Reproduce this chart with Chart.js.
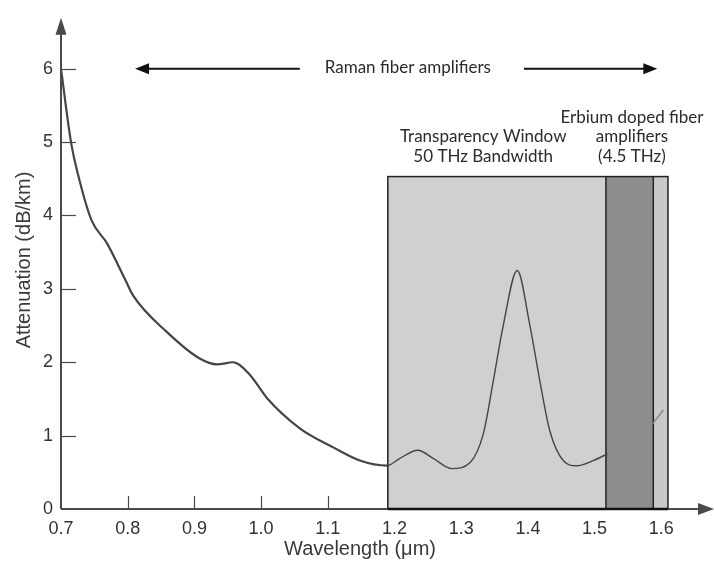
<!DOCTYPE html>
<html>
<head>
<meta charset="utf-8">
<script src="https://cdn.jsdelivr.net/npm/chart.js@4/dist/chart.umd.min.js"></script>
<style>
  html, body { margin: 0; padding: 0; background: #fff; }
  #wrap { width: 714px; height: 563px; }
</style>
</head>
<body>
<div id="wrap"><canvas id="attChart" width="714" height="563"></canvas></div>
<script>
// ---------- data ----------
const wavelength = [0.7, 0.715, 0.728, 0.746, 0.769, 0.796, 0.808, 0.859, 0.908, 0.934, 0.958, 0.983,
    1.009, 1.058, 1.108, 1.148, 1.189, 1.208, 1.235, 1.258, 1.286, 1.313, 1.333, 1.348, 1.363,
    1.384, 1.403, 1.418, 1.433, 1.453, 1.473, 1.498, 1.519];
const attenuation = [6.0, 5.0, 4.47, 3.93, 3.62, 3.13, 2.91, 2.41, 2.05, 1.97, 2.0, 1.83,
    1.51, 1.1, 0.84, 0.66, 0.59, 0.69, 0.8, 0.69, 0.55, 0.63, 1.02, 1.74, 2.5,
    3.25, 2.5, 1.74, 1.06, 0.66, 0.59, 0.66, 0.75];

// small bit of curve visible right of the erbium band
const tailWavelength = [1.587, 1.603];
const tailAttenuation = [1.16, 1.35];

const xTicks = [0.7, 0.8, 0.9, 1.0, 1.1, 1.2, 1.3, 1.4, 1.5, 1.6];
const yTicks = [0, 1, 2, 3, 4, 5, 6];

const xTitle = 'Wavelength (\u03bcm)';
const yTitle = 'Attenuation (dB/km)';

// shaded regions (wavelength ranges, attenuation top)
const windowRange = [1.19, 1.61];
const windowTop = 4.53;
const erbiumRange = [1.517, 1.588];

// Raman arrows: [from, to] wavelength at attenuation 6
const ramanLeft = [1.058, 0.811];
const ramanRight = [1.394, 1.594];
const ramanLevel = 6.0;

const labels = [
    { text: 'Raman fiber amplifiers', x: 1.22, y: 6.02 },
    { text: 'Transparency Window', x: 1.333, y: 5.08 },
    { text: '50 THz Bandwidth', x: 1.333, y: 4.8 },
    { text: 'Erbium doped fiber', x: 1.556, y: 5.34 },
    { text: 'amplifiers', x: 1.556, y: 5.07 },
    { text: '(4.5 THz)', x: 1.556, y: 4.8 }
];

const AXIS = '#4a4a4a';
const SANS = '"Liberation Sans", Arial, sans-serif';

// =============================================
// DRAWING HELPERS
// =============================================

function arrowHead(ctx, tipX, tipY, dir, len, half) {
    // dir: 'left' | 'right' | 'up'
    ctx.beginPath();
    if (dir === 'left') {
        ctx.moveTo(tipX, tipY);
        ctx.lineTo(tipX + len, tipY - half);
        ctx.lineTo(tipX + len, tipY + half);
    } else if (dir === 'right') {
        ctx.moveTo(tipX, tipY);
        ctx.lineTo(tipX - len, tipY - half);
        ctx.lineTo(tipX - len, tipY + half);
    } else {
        ctx.moveTo(tipX, tipY);
        ctx.lineTo(tipX - half, tipY + len);
        ctx.lineTo(tipX + half, tipY + len);
    }
    ctx.closePath();
    ctx.fill();
}

const backdrop = {
    id: 'backdrop',
    beforeDatasetsDraw(chart) {
        const { ctx, scales: { x, y } } = chart;
        const x0 = x.getPixelForValue(0.7);
        const yb = y.getPixelForValue(0);
        ctx.save();

        // inner tick marks
        ctx.strokeStyle = AXIS;
        ctx.lineWidth = 1.2;
        yTicks.slice(1).forEach(v => {
            const py = Math.round(y.getPixelForValue(v)) + 0.5;
            ctx.beginPath();
            ctx.moveTo(x0, py);
            ctx.lineTo(x0 + 15, py);
            ctx.stroke();
        });
        xTicks.slice(1).forEach(v => {
            const px = Math.round(x.getPixelForValue(v)) + 0.5;
            ctx.beginPath();
            ctx.moveTo(px, yb);
            ctx.lineTo(px, yb - 13);
            ctx.stroke();
        });

        // transparency window
        const wl = x.getPixelForValue(windowRange[0]);
        const wr = x.getPixelForValue(windowRange[1]);
        const wt = y.getPixelForValue(windowTop);
        ctx.fillStyle = '#d0d0d0';
        ctx.fillRect(wl, wt, wr - wl, yb - wt);

        // erbium band
        const el = x.getPixelForValue(erbiumRange[0]);
        const er = x.getPixelForValue(erbiumRange[1]);
        ctx.fillStyle = '#8d8d8d';
        ctx.fillRect(el, wt, er - el, yb - wt);
        ctx.fillStyle = '#c9c9c9';
        ctx.fillRect(er, wt, wr - er, yb - wt);

        ctx.strokeStyle = '#222';
        ctx.lineWidth = 1.5;
        ctx.strokeRect(wl, wt, wr - wl, yb - wt);
        [el, er].forEach(px => {
            ctx.beginPath();
            ctx.moveTo(px, wt);
            ctx.lineTo(px, yb);
            ctx.stroke();
        });
        ctx.restore();
    },
    afterDatasetsDraw(chart) {
        const { ctx, chartArea, scales: { x, y } } = chart;
        const x0 = x.getPixelForValue(0.7);
        const yb = y.getPixelForValue(0);
        ctx.save();

        // axes with arrows
        ctx.strokeStyle = AXIS;
        ctx.fillStyle = AXIS;
        ctx.lineWidth = 2;
        ctx.beginPath();
        ctx.moveTo(x0, yb);
        ctx.lineTo(x0, chartArea.top + 6);
        ctx.moveTo(x0, yb);
        ctx.lineTo(706, yb);
        ctx.stroke();
        arrowHead(ctx, x0, chartArea.top - 1, 'up', 17, 5.5);
        arrowHead(ctx, 714, yb, 'right', 16, 6);

        // window bottom edge along axis
        ctx.strokeStyle = '#111';
        ctx.lineWidth = 2.5;
        ctx.beginPath();
        ctx.moveTo(x.getPixelForValue(windowRange[0]), yb);
        ctx.lineTo(x.getPixelForValue(windowRange[1]), yb);
        ctx.stroke();

        // Raman arrows
        ctx.strokeStyle = '#111';
        ctx.fillStyle = '#111';
        ctx.lineWidth = 2;
        const ry = y.getPixelForValue(ramanLevel);
        [ramanLeft, ramanRight].forEach(([a, b]) => {
            const pa = x.getPixelForValue(a);
            const pb = x.getPixelForValue(b);
            const dir = pb < pa ? 'left' : 'right';
            ctx.beginPath();
            ctx.moveTo(pa, ry);
            ctx.lineTo(dir === 'left' ? pb + 10 : pb - 10, ry);
            ctx.stroke();
            arrowHead(ctx, pb, ry, dir, 14, 5.5);
        });

        // text labels
        ctx.fillStyle = '#2b2b2b';
        ctx.font = '17px Lato, "Open Sans", sans-serif';
        ctx.textAlign = 'center';
        ctx.textBaseline = 'middle';
        labels.forEach(l => {
            ctx.fillText(l.text, x.getPixelForValue(l.x), y.getPixelForValue(l.y));
        });

        // axis titles
        ctx.fillStyle = '#3a3a3a';
        ctx.font = '20px ' + SANS;
        ctx.fillText(xTitle, 360, 549);
        ctx.translate(24, 260);
        ctx.rotate(-Math.PI / 2);
        ctx.fillText(yTitle, 0, 0);
        ctx.restore();
    }
};

// =============================================
// CHART
// =============================================

const ctx = document.getElementById('attChart').getContext('2d');
const chart = new Chart(ctx, {
    type: 'line',
    data: {
        datasets: [{
            data: wavelength.map((w, i) => ({ x: w, y: attenuation[i] })),
            borderColor: '#454545',
            borderWidth: 2.2,
            pointRadius: 0,
            cubicInterpolationMode: 'monotone',
            segment: {
                borderWidth: c => (c.p0.parsed.x >= 1.189 ? 1.4 : 2.2)
            }
        }, {
            data: tailWavelength.map((w, i) => ({ x: w, y: tailAttenuation[i] })),
            borderColor: '#8a8a8a',
            borderWidth: 1.5,
            pointRadius: 0
        }]
    },
    options: {
        responsive: false,
        animation: false,
        layout: { padding: { top: 13, right: 6, left: 0, bottom: 0 } },
        plugins: {
            legend: { display: false },
            tooltip: { enabled: false }
        },
        scales: {
            x: {
                type: 'linear',
                min: 0.7,
                max: 1.67,
                afterFit: s => { s.height = 54; },
                afterBuildTicks: s => { s.ticks = xTicks.map(v => ({ value: v })); },
                grid: { display: false, drawTicks: false },
                border: { display: false },
                ticks: {
                    padding: 9,
                    maxRotation: 0,
                    color: '#333',
                    font: { family: SANS, size: 18 },
                    callback: v => v.toFixed(1)
                }
            },
            y: {
                min: 0,
                max: 6.68,
                afterFit: s => { s.width = 61; },
                afterBuildTicks: s => { s.ticks = yTicks.map(v => ({ value: v })); },
                grid: { display: false, drawTicks: false },
                border: { display: false },
                ticks: {
                    padding: 8,
                    color: '#333',
                    font: { family: SANS, size: 18 },
                    callback: v => String(v)
                }
            }
        }
    },
    plugins: [backdrop]
});
</script>
</body>
</html>
